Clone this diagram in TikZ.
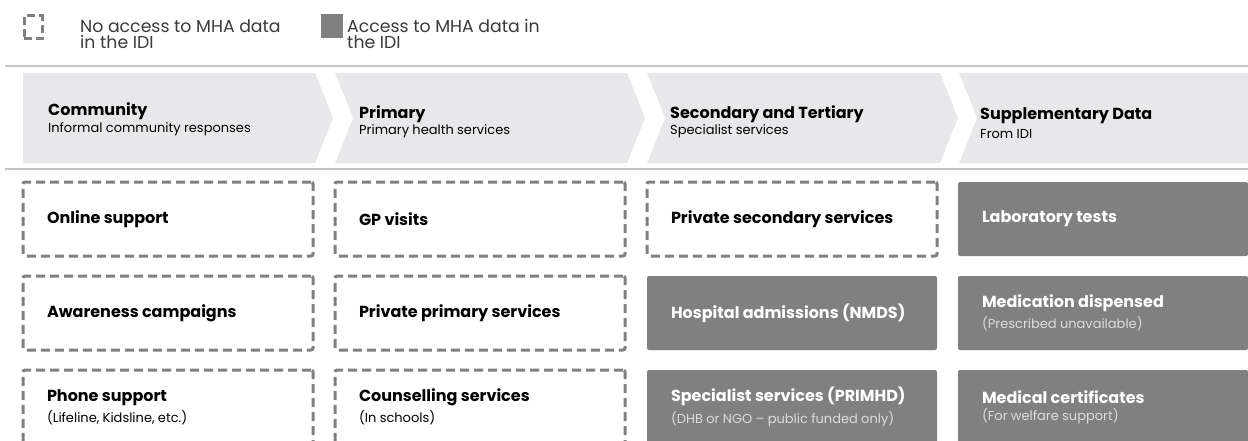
\documentclass[tikz,border=0pt]{standalone}
\usepackage{fontspec}
\setmainfont{Poppins}
\usetikzlibrary{positioning}
\definecolor{chevgray}{HTML}{E8E8EA}
\definecolor{rulegray}{HTML}{C4C4C4}
\definecolor{boxgray}{HTML}{808080}
\definecolor{subgray}{HTML}{3A3A3A}
\definecolor{lightsub}{HTML}{DCDCDC}
\newcommand{\boxtitle}[1]{{\fontsize{16}{18}\selectfont\bfseries #1}}
\newcommand{\boxsub}[1]{{\fontsize{13}{15}\selectfont #1}}

\begin{document}
\begin{tikzpicture}[x=1pt,y=-1pt,node distance=20pt]
        % --- estilos ---
        \tikzstyle{noaccess} = [
            rectangle,
            rounded corners=2pt,
            draw=boxgray,
            line width=3pt,
            dash pattern=on 9pt off 5pt,
            minimum height=74pt,
            text width=242pt,
            inner xsep=24pt,
            outer sep=0pt,
            align=left,
            anchor=north west
        ]
        \tikzstyle{access} = [noaccess, draw=none, fill=boxgray, text=white]
        \tikzstyle{chevron} = [fill=chevgray, draw=none]
        \tikzstyle{headtxt} = [anchor=west, align=left, inner sep=0pt, text width=260pt]
        \tikzstyle{keytxt} = [anchor=west, align=left, inner sep=0pt, font=\fontsize{17.3}{16.5}\selectfont, text=subgray]
        \tikzstyle{rule} = [draw=rulegray, line width=1.5pt]

        \useasboundingbox (0,0) rectangle (1248,440);

        % --- legenda ---
        \node (keynone) [draw=boxgray, line width=3pt, dash pattern=on 8pt off 4pt, minimum width=18pt, minimum height=23pt, inner sep=0pt] at (33,27) {};
        \node (keynonetxt) [keytxt] at (80,34) {No access to MHA data\\in the IDI};
        \node (keyyes) [fill=boxgray, minimum width=22pt, minimum height=24pt, inner sep=0pt] at (332,26) {};
        \node (keyyestxt) [keytxt] at (347,34) {Access to MHA data in\\the IDI};

        \draw [rule] (5,66) -- (1248,66);
        \draw [rule] (5,169) -- (1248,169);

        % --- setas (etapas) ---
        \fill [chevron] (23,73) -- (315,73) -- (333,118) -- (315,163) -- (23,163) -- cycle;
        \fill [chevron] (335,73) -- (627,73) -- (645,118) -- (627,163) -- (335,163) -- (353,118) -- cycle;
        \fill [chevron] (647,73) -- (940,73) -- (958,118) -- (940,163) -- (647,163) -- (665,118) -- cycle;
        \fill [chevron] (959,73) -- (1248,73) -- (1248,163) -- (959,163) -- (977,118) -- cycle;

        \node (comm) [headtxt] at (48,119) {\boxtitle{Community}\\[2pt]\boxsub{Informal community responses}};
        \node (prim) [headtxt] at (359,122) {\boxtitle{Primary}\\[1pt]\boxsub{Primary health services}};
        \node (sec) [headtxt] at (670,122) {\boxtitle{Secondary and Tertiary}\\[1pt]\boxsub{Specialist services}};
        \node (supp) [headtxt] at (980,123) {\boxtitle{Supplementary Data}\\[5pt]\boxsub{From IDI}};

        % --- caixas ---
        \node (online) [noaccess] at (23,182) {\boxtitle{Online support}};
        \node (aware) [noaccess, below=of online] {\boxtitle{Awareness campaigns}};
        \node (phone) [noaccess, below=of aware] {\boxtitle{Phone support}\\[4pt]\boxsub{(Lifeline, Kidsline, etc.)}};

        \node (gp) [noaccess] at (335,182) {\boxtitle{GP visits}};
        \node (privprim) [noaccess, below=of gp] {\boxtitle{Private primary services}};
        \node (counsel) [noaccess, below=of privprim] {\boxtitle{Counselling services}\\[4pt]\boxsub{(In schools)}};

        \node (privsec) [noaccess] at (647,182) {\boxtitle{Private secondary services}};
        \node (hosp) [access, below=of privsec] {\boxtitle{Hospital admissions (NMDS)}};
        \node (spec) [access, below=of hosp] {\boxtitle{Specialist services (PRIMHD)}\\[4pt]{\color{lightsub}\boxsub{(DHB or NGO -- public funded only)}}};

        \node (lab) [access] at (958,182) {\boxtitle{Laboratory tests}};
        \node (meds) [access, below=of lab] {\boxtitle{Medication dispensed}\\[4pt]{\color{lightsub}\boxsub{(Prescribed unavailable)}}};
        \node (cert) [access, below=of meds] {\boxtitle{Medical certificates}\\[4pt]{\color{lightsub}\boxsub{(For welfare support)}}};
\end{tikzpicture}
\end{document}
